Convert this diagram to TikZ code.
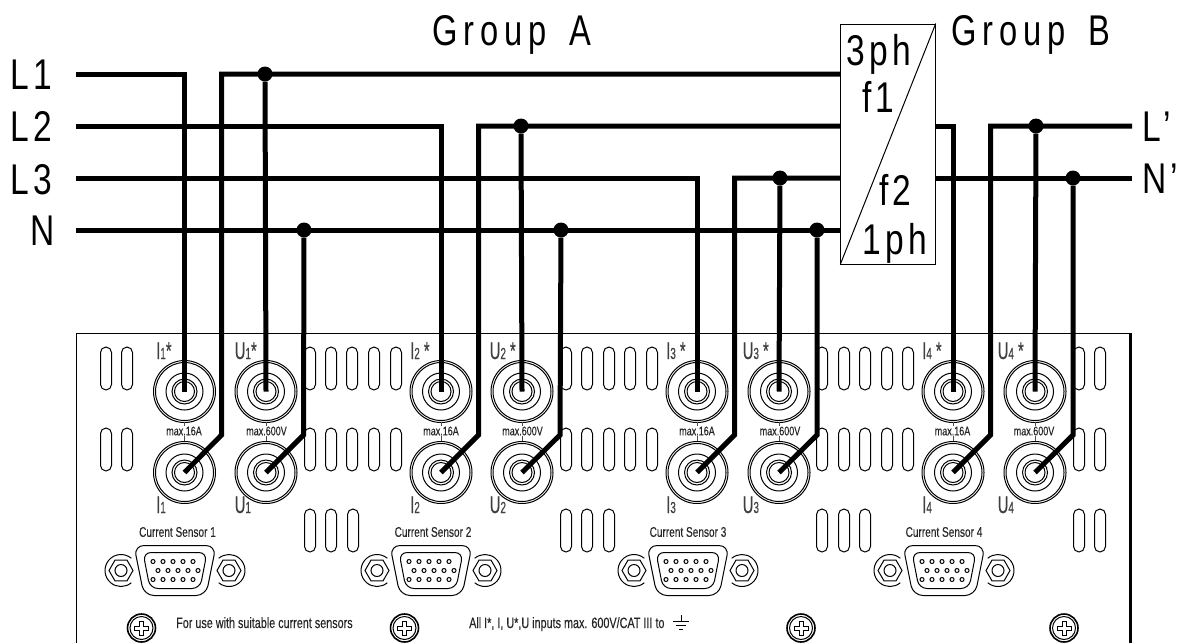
\documentclass[tikz,border=0pt]{standalone}
\usepackage{fontspec}
\setmainfont{Liberation Sans}
\newfontfamily\narrowfont[FakeStretch=0.72,FakeBold=0.25]{Liberation Sans}
\newfontfamily\jackfont[FakeStretch=0.62,FakeBold=0.3]{Liberation Sans}
\newfontfamily\boxfont[FakeStretch=0.78,LetterSpace=10]{Liberation Sans}
\newfontfamily\widefont[FakeStretch=0.76,LetterSpace=14]{Liberation Sans}
\usetikzlibrary{calc}

\tikzset{
  thin line/.style={line width=1pt,black},
  wire/.style={line width=5pt,black,line cap=butt,line join=miter},
  big label/.style={font=\widefont\fontsize{43}{43}\selectfont,inner sep=0pt,anchor=base west},
  box label/.style={font=\boxfont\fontsize{43}{43}\selectfont,inner sep=0pt,anchor=base west},
  jack label/.style={font=\jackfont\fontsize{24}{24}\selectfont,text=black!75,inner sep=0pt,anchor=base west},
  max label/.style={font=\narrowfont\fontsize{12.5}{13}\selectfont,text=black!85,inner sep=0pt},
  sensor label/.style={font=\narrowfont\fontsize{14}{14}\selectfont,text=black!85,inner sep=0pt},
  panel label/.style={font=\narrowfont\fontsize{15}{15}\selectfont,text=black!85,inner sep=0pt,anchor=base west},
  dot/.style={circle,fill=black,inner sep=0pt,minimum size=15pt}
}

% one socket
\newcommand{\jack}[3]{
  \coordinate (#1) at (#2,#3);
  \foreach \r in {31,29,18.5,12.5,10}{\draw[thin line] (#2,#3) circle (\r pt);}
}
% one 15 pole plug with its two nuts
\newcommand{\sensor}[2]{
  \draw[thin line,rounded corners=10pt] (#1-41,#2-25) -- (#1+41,#2-25) -- (#1+31,#2+25) -- (#1-31,#2+25) -- cycle;
  \draw[thin line,rounded corners=8pt] (#1-32,#2-18) -- (#1+32,#2-18) -- (#1+25,#2+18) -- (#1-25,#2+18) -- cycle;
  \foreach \h in {-20,-10,0,10,20}{
    \draw[thin line] (#1+\h-2,#2-9) circle (2pt);
    \draw[thin line] (#1+\h+3,#2) circle (2pt);
    \draw[thin line] (#1+\h-2,#2+9) circle (2pt);
  }
  \foreach \n in {-54,54}{
    \draw[thin line] (#1+\n,#2) circle (6pt);
    \draw[thin line] (#1+\n+12,#2) -- (#1+\n+6,#2-10.4) -- (#1+\n-6,#2-10.4) -- (#1+\n-12,#2) -- (#1+\n-6,#2+10.4) -- (#1+\n+6,#2+10.4) -- cycle;
  }
  \draw[thin line] (#1-54,#2) ++(50:16pt) arc (50:310:16pt);
  \draw[thin line] (#1+54,#2) ++(230:16pt) arc (-130:130:16pt);
}
% fixing screw with cross
\newcommand{\screw}[1]{
  \draw[line width=1.6pt] (#1,628) circle (14pt);
  \draw[thin line] (#1,628) circle (11.5pt);
  \draw[thin line] (#1-2,628-7) -- (#1+2,628-7) -- (#1+2,628-2) -- (#1+7,628-2) -- (#1+7,628+2) -- (#1+2,628+2) -- (#1+2,628+7) -- (#1-2,628+7) -- (#1-2,628+2) -- (#1-7,628+2) -- (#1-7,628-2) -- (#1-2,628-2) -- cycle;
}

\begin{document}
\begin{tikzpicture}[x=1pt,y=-1pt]
\useasboundingbox (0,0) rectangle (1182,643);

% front panel
\draw[line width=1.3pt] (76.5,643) -- (76.5,333.5) -- (1130.5,333.5);
\draw[line width=2.5pt] (1130.5,333) -- (1130.5,643);

\foreach \x in {106,127,310,331,352,374,396,566,587,609,630,652,822,844,865,887,908,1079,1100}{
  \draw[thin line,rounded corners=5.5pt] (\x-5.5,347) rectangle (\x+5.5,390);
  \draw[thin line,rounded corners=5.5pt] (\x-5.5,428) rectangle (\x+5.5,471);
}
\foreach \x in {310,331,353,566,587,609,822,844,865,1079,1100}{
  \draw[thin line,rounded corners=5.5pt] (\x-5.5,509) rectangle (\x+5.5,552);
}

% sockets
\jack{Iin1}{184.5}{391.5}
\jack{Iout1}{184.5}{472.5}
\jack{Uin1}{266}{391.5}
\jack{Uout1}{266}{472.5}
\jack{Iin2}{441}{391.5}
\jack{Iout2}{441}{472.5}
\jack{Uin2}{522}{391.5}
\jack{Uout2}{522}{472.5}
\jack{Iin3}{697}{391.5}
\jack{Iout3}{697}{472.5}
\jack{Uin3}{779}{391.5}
\jack{Uout3}{779}{472.5}
\jack{Iin4}{953}{391.5}
\jack{Iout4}{953}{472.5}
\jack{Uin4}{1035}{391.5}
\jack{Uout4}{1035}{472.5}

\foreach \x in {184.5,266,441,522,697,779,953,1035}{
  \draw[line width=.6pt,black!70] (\x,422) -- (\x,425.5);
  \draw[line width=.6pt,black!70] (\x,436) -- (\x,441);
}
\node[max label] (max1) at (184,431) {max.16A};
\node[max label] (max2) at (266.5,431) {max.600V};
\node[max label] (max3) at (441,431) {max.16A};
\node[max label] (max4) at (522.5,431) {max.600V};
\node[max label] (max5) at (697,431) {max.16A};
\node[max label] (max6) at (780,431) {max.600V};
\node[max label] (max7) at (952.5,431) {max.16A};
\node[max label] (max8) at (1034,431) {max.600V};

\node[jack label] (tIin1) at (156,359) {I{\fontsize{16}{16}\selectfont 1}*};
\node[jack label] (tUin1) at (234.5,359) {U{\fontsize{16}{16}\selectfont 1}*};
\node[jack label] (tIin2) at (410,359) {I{\fontsize{16}{16}\selectfont 2}\,*};
\node[jack label] (tUin2) at (489.5,359) {U{\fontsize{16}{16}\selectfont 2}\,*};
\node[jack label] (tIin3) at (666,359) {I{\fontsize{16}{16}\selectfont 3}\,*};
\node[jack label] (tUin3) at (742.5,359) {U{\fontsize{16}{16}\selectfont 3}\,*};
\node[jack label] (tIin4) at (922,359) {I{\fontsize{16}{16}\selectfont 4}\,*};
\node[jack label] (tUin4) at (997.5,359) {U{\fontsize{16}{16}\selectfont 4}\,*};
\node[jack label] (tIout1) at (156,513) {I{\fontsize{16}{16}\selectfont 1}};
\node[jack label] (tUout1) at (234.5,513) {U{\fontsize{16}{16}\selectfont 1}};
\node[jack label] (tIout2) at (410,513) {I{\fontsize{16}{16}\selectfont 2}};
\node[jack label] (tUout2) at (489.5,513) {U{\fontsize{16}{16}\selectfont 2}};
\node[jack label] (tIout3) at (666,513) {I{\fontsize{16}{16}\selectfont 3}};
\node[jack label] (tUout3) at (742.5,513) {U{\fontsize{16}{16}\selectfont 3}};
\node[jack label] (tIout4) at (922,513) {I{\fontsize{16}{16}\selectfont 4}};
\node[jack label] (tUout4) at (997.5,513) {U{\fontsize{16}{16}\selectfont 4}};

% sensor plugs
\sensor{175}{570.5}
\sensor{431}{570.5}
\sensor{688}{570.5}
\sensor{944}{570.5}
\node[sensor label] (sens1) at (177.5,532) {Current Sensor 1};
\node[sensor label] (sens2) at (433,532) {Current Sensor 2};
\node[sensor label] (sens3) at (688,532) {Current Sensor 3};
\node[sensor label] (sens4) at (944,532) {Current Sensor 4};

\screw{141.5}
\screw{404.5}
\screw{801}
\screw{1064}
\node[panel label] (use) at (176,628) {For use with suitable current sensors};
\node[panel label] (inputs) at (469,628) {All I*, I, U*,U inputs max. 600V/CAT III to};
\draw[line width=.8pt] (681,615) -- (681,621) (673,621) -- (689,621) (676,625) -- (686,625) (679,629) -- (683,629);

% converter box
\node[draw,thin line,fill=white,minimum width=94.5pt,minimum height=240pt,inner sep=0pt] (conv) at (888,144) {};
\draw[thin line] (conv.south west) -- (conv.north east);
\node[box label] (ph3) at (846,65) {3ph};
\node[box label] (f1) at (862,112.5) {f1};
\node[box label] (f2) at (879,205) {f2};
\node[box label] (ph1) at (862,254) {1ph};

% lines
\coordinate (startL1) at (76,74);
\coordinate (startL2) at (76,126);
\coordinate (startL3) at (76,178);
\coordinate (startN) at (76,230);
\coordinate (endL) at (1132,126);
\coordinate (endN) at (1132,178);
\coordinate (boxL1) at (conv.west |- startL1);
\coordinate (boxL2) at (conv.west |- startL2);
\coordinate (boxL3) at (conv.west |- startL3);
\coordinate (boxN) at (conv.west |- startN);
\coordinate (boxL) at (conv.east |- endL);
\coordinate (boxNp) at (conv.east |- endN);

\node[dot] (dotU1) at (265,74) {};
\node[dot] (dotN1) at (304,230) {};
\node[dot] (dotU2) at (521,126) {};
\node[dot] (dotN2) at (561,230) {};
\node[dot] (dotU3) at (780,178) {};
\node[dot] (dotN3) at (817,230) {};
\node[dot] (dotU4) at (1036,126) {};
\node[dot] (dotN4) at (1073,178) {};

\draw[wire] (startL1) -| (Iin1);
\draw[wire] (startL2) -| (Iin2);
\draw[wire] (startL3) -| (Iin3);
\draw[wire] (boxL) -| (Iin4);
\draw[wire] (startN) -- (boxN);
\draw[wire] (boxNp) -- (endN);
\draw[wire] (dotU1) -- (Uin1);
\draw[wire] (dotU2) -- (Uin2);
\draw[wire] (dotU3) -- (Uin3);
\draw[wire] (dotU4) -- (Uin4);
\draw[wire] (boxL1) -- (221.5,74) -- (221.5,435) -- (Iout1);
\draw[wire] (boxL2) -- (478.5,126) -- (478.5,435) -- (Iout2);
\draw[wire] (boxL3) -- (734.5,178) -- (734.5,435) -- (Iout3);
\draw[wire] (endL) -- (990.5,126) -- (990.5,435) -- (Iout4);
\draw[wire] (dotN1) -- (303.5,435) -- (Uout1);
\draw[wire] (dotN2) -- (560,435) -- (Uout2);
\draw[wire] (dotN3) -- (817,435) -- (Uout3);
\draw[wire] (dotN4) -- (1073,435) -- (Uout4);

% line names
\node[box label] (L1) at (10,89) {L1};
\node[box label] (L2) at (10,141) {L2};
\node[box label] (L3) at (10,194) {L3};
\node[box label,anchor=base east] (N) at (55,245) {N};
\node[box label] (Lp) at (1142,141) {L’};
\node[box label] (Np) at (1142,193) {N’};
\node[big label] (groupA) at (432,45) {Group\hspace{7pt} A};
\node[big label] (groupB) at (951,45) {Group\hspace{7pt} B};
\end{tikzpicture}
\end{document}
